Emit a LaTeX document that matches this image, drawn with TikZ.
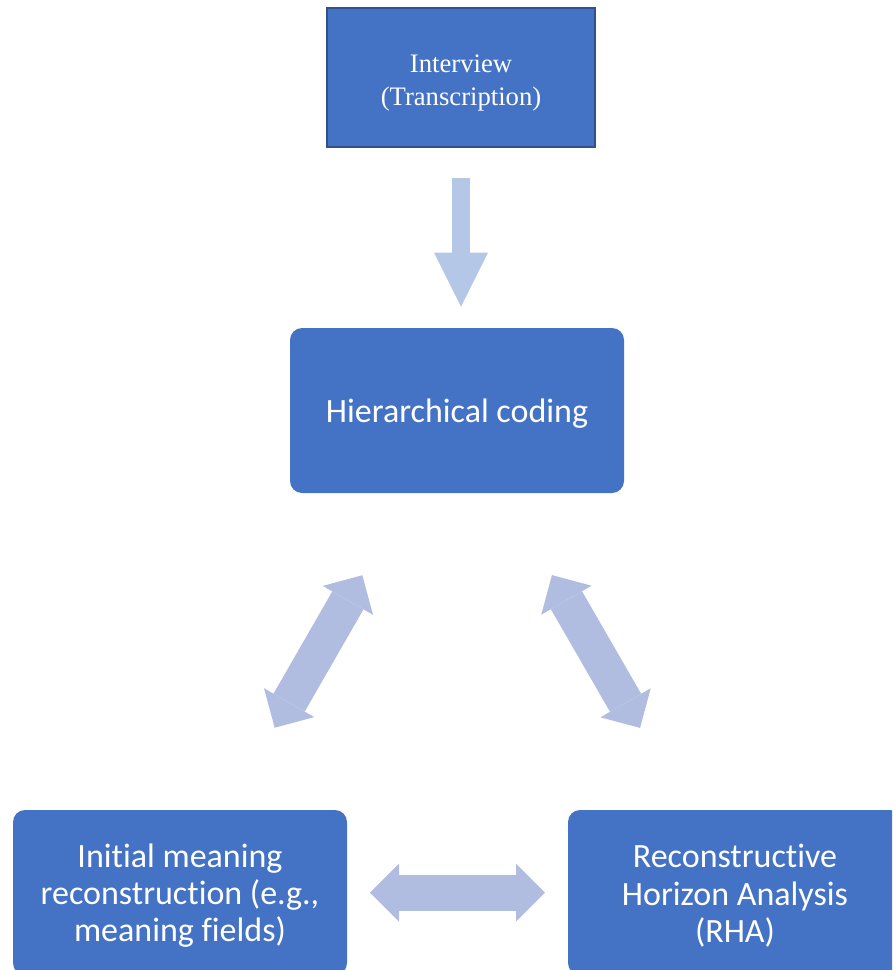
\documentclass[tikz,border=0pt]{standalone}
\usepackage{fontspec}
\setmainfont{Carlito}[Ligatures=NoCommon]
\newfontfamily\tnrfont{Liberation Serif}
\usetikzlibrary{arrows.meta}

\definecolor{boxblue}{RGB}{68,114,196}
\definecolor{boxedge}{RGB}{47,82,143}
\definecolor{feedblue}{RGB}{180,199,231}
\definecolor{linkblue}{RGB}{176,189,224}

% invisible strut that pushes the first text line down a little
\newcommand\toplift[1]{\rule{0pt}{#1}}

\tikzset{
  stage/.style={fill=boxblue, rounded corners=9pt, minimum width=250.5pt, minimum height=123.75pt, inner sep=0pt, text=white, align=center, font=\fontsize{25.5}{28}\selectfont},
  source/.style={fill=boxblue, draw=boxedge, line width=1.5pt, minimum width=201pt, minimum height=104.25pt, inner sep=0pt, text=white, align=center, font=\tnrfont\fontsize{20}{24.75}\selectfont},
  feed/.style={feedblue, line width=13.5pt, -{Triangle[length=40.5pt 0 0, width=40.5pt 0 0, line width=0pt 0 0]}},
  link/.style={linkblue, line width=27pt, >={Triangle[length=21.75pt 0 0, width=43.5pt 0 0, line width=0pt 0 0]}, <->, shorten <=142.5pt, shorten >=142.5pt},
}

\begin{document}
\begin{tikzpicture}[x=0.75pt,y=0.75pt,yscale=-1,xscale=1]
\useasboundingbox (0,0) rectangle (892,970);
\clip (0,0) rectangle (892,970);

%Shape: Rectangle [interview]
\node [source] (intv) at (461,77.5) {\toplift{21pt}Interview\\(Transcription)};
%Shape: Rounded Rect [coding]
\node [stage] (hier) at (457,410.5) {\toplift{22.5pt}Hierarchical coding};
%Shape: Rounded Rect [meaning]
\node [stage] (init) at (180,892.5) {\toplift{22.5pt}Initial meaning\\reconstruction (e.g.,\\meaning fields)};
%Shape: Rounded Rect [horizon]
\node [stage] (rha) at (735,892.5) {\toplift{22.5pt}Reconstructive\\Horizon Analysis\\(RHA)};

%Down Arrow
\draw [feed, shorten <=22.5pt, shorten >=15.75pt] (intv.south) -- (intv.south |- hier.north);
%Left-Right Arrows
\draw [link] (init.center) -- (hier.center);
\draw [link] (hier.center) -- (rha.center);
\draw [link] (init.center) -- (rha.center);

\end{tikzpicture}
\end{document}
